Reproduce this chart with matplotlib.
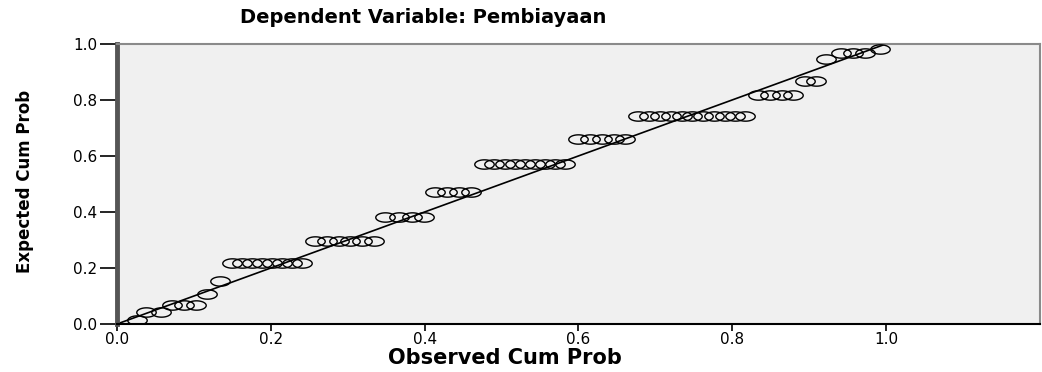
import numpy as np
import matplotlib
matplotlib.use("Agg")
import matplotlib.pyplot as plt
from matplotlib.path import Path

# P-P plot of regression standardized residuals
observed = [0.026,
            0.038, 0.057,
            0.071, 0.087, 0.103,
            0.117,
            0.134,
            0.149, 0.162, 0.175, 0.188, 0.201, 0.214, 0.227, 0.240,
            0.258, 0.273, 0.288, 0.303, 0.318, 0.334,
            0.349, 0.366, 0.383, 0.399,
            0.414, 0.429, 0.445, 0.460,
            0.477, 0.490, 0.504, 0.517, 0.530, 0.543, 0.556, 0.570, 0.583,
            0.600, 0.615, 0.630, 0.646, 0.661,
            0.678, 0.692, 0.706, 0.720, 0.734, 0.748, 0.762, 0.776, 0.790, 0.803, 0.817,
            0.834, 0.849, 0.864, 0.879,
            0.895, 0.909,
            0.922,
            0.942, 0.957, 0.973,
            0.992]
expected = [0.014,
            0.043, 0.043,
            0.068, 0.068, 0.068,
            0.106,
            0.154,
            0.219, 0.219, 0.219, 0.219, 0.219, 0.219, 0.219, 0.219,
            0.296, 0.296, 0.296, 0.296, 0.296, 0.296,
            0.383, 0.383, 0.383, 0.383,
            0.473, 0.473, 0.473, 0.473,
            0.570, 0.570, 0.570, 0.570, 0.570, 0.570, 0.570, 0.570, 0.570,
            0.660, 0.660, 0.660, 0.660, 0.660,
            0.744, 0.744, 0.744, 0.744, 0.744, 0.744, 0.744, 0.744, 0.744, 0.744, 0.744,
            0.816, 0.816, 0.816, 0.816,
            0.869, 0.869,
            0.946,
            0.967, 0.967, 0.967,
            0.982]
ticks = [0.0, 0.2, 0.4, 0.6, 0.8, 1.0]
tick_labels = ["0.0", "0.2", "0.4", "0.6", "0.8", "1.0"]

# wide elliptical marker (circle stretched sideways)
t = np.linspace(0, 2 * np.pi, 60)
ellipse = Path(np.column_stack([np.cos(t), 0.48 * np.sin(t)]), closed=True)

fig = plt.figure(figsize=(10.42, 3.72), dpi=100)
ax = fig.add_axes([0.1123, 0.129, 0.8857, 0.753])
ax.set_facecolor("#f0f0f0")

ax.plot([0, 1], [0, 1], color="black", lw=1.2, zorder=2)
ax.plot(observed, expected, linestyle="none", marker=ellipse, markersize=14,
        markerfacecolor="none", markeredgecolor="black", markeredgewidth=1.0, zorder=3)

ax.set_xlim(0, 1.2)
ax.set_ylim(0, 1.0)
ax.set_xticks(ticks)
ax.set_xticklabels(tick_labels)
ax.set_yticks(ticks)
ax.set_yticklabels(tick_labels)
ax.tick_params(axis="x", length=5, width=1.2, pad=1, labelsize=11, colors="black")
ax.tick_params(axis="y", length=12, width=1.2, pad=2, labelsize=11, colors="black")

for side in ["top", "right"]:
    ax.spines[side].set_color("#8a8a8a")
    ax.spines[side].set_linewidth(1.5)
ax.spines["bottom"].set_color("black")
ax.spines["bottom"].set_linewidth(1.5)
ax.spines["left"].set_color("#555555")
ax.spines["left"].set_linewidth(3.5)

fig.text(0.406, 0.952, "Dependent Variable: Pembiayaan", ha="center", va="center",
         fontsize=14, fontweight="bold")
fig.text(0.485, 0.038, "Observed Cum Prob", ha="center", va="center",
         fontsize=15, fontweight="bold")
fig.text(0.024, 0.513, "Expected Cum Prob", ha="center", va="center", rotation=90,
         fontsize=12, fontweight="bold")

fig.savefig("out.png", dpi=100)
